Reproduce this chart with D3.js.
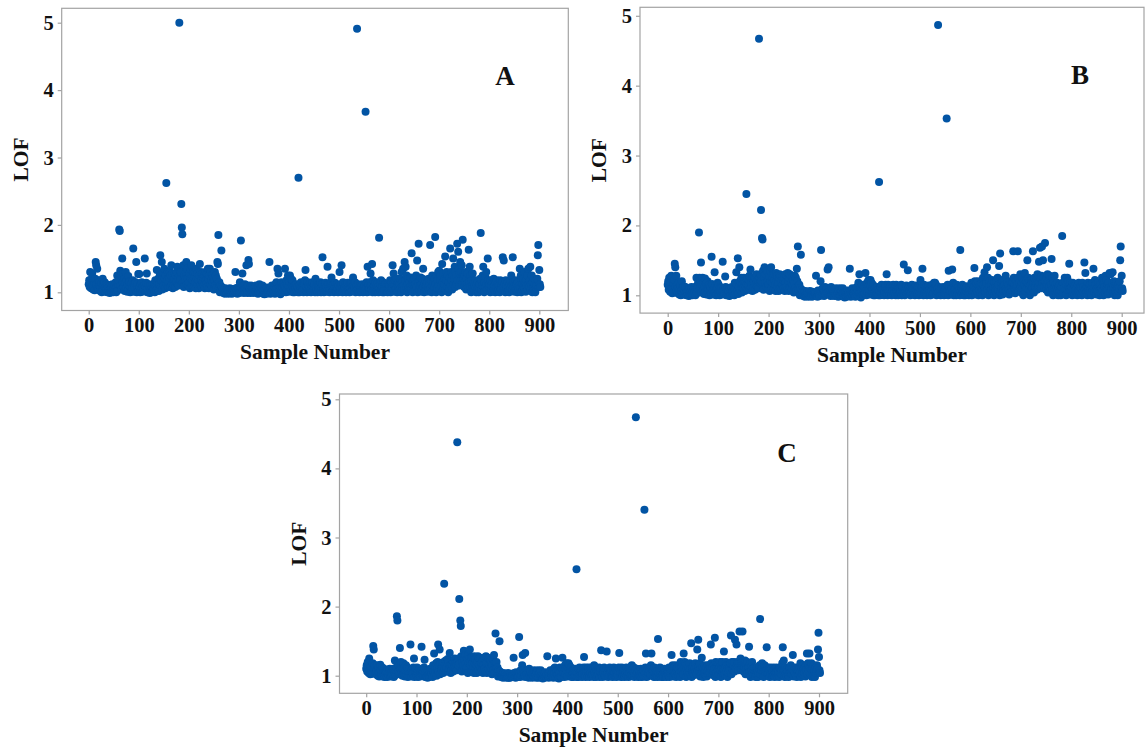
<!DOCTYPE html>
<html>
<head>
<meta charset="utf-8">
<script src="https://cdn.jsdelivr.net/npm/d3@7/dist/d3.min.js"></script>
<style>
html,body{margin:0;padding:0;background:#fff;}
svg{display:block;}
</style>
</head>
<body>
<svg id="chart" width="1145" height="747"></svg>
<script>
// ---- data: LOF value of each sample (index = sample number), in hundredths ----
const lofA = [
112,118,108,130,115,106,120,128,110,104,
109,115,103,120,145,140,112,135,106,118,
104,110,116,102,108,113,100,106,120,111,
103,109,115,101,107,112,104,100,110,106,
102,108,99,111,105,101,107,112,103,100,
106,101,110,104,115,100,108,125,103,112,
118,193,191,132,110,125,104,150,115,128,
108,120,102,114,130,106,118,101,112,124,
104,110,116,100,108,113,102,106,118,165,
101,112,107,104,115,145,100,109,113,127,
103,127,108,100,112,105,115,101,109,106,
104,110,150,102,108,114,128,100,106,112,
101,107,99,111,104,100,108,112,103,106,
105,112,100,118,108,103,133,115,106,120,
102,112,125,155,108,118,145,104,130,115,
110,135,120,106,125,262,112,118,130,108,
115,122,130,108,125,140,112,128,106,118,
110,120,128,108,125,115,130,138,112,122,
110,500,125,118,130,231,196,186,115,140,
108,125,140,118,130,145,112,135,120,110,
115,128,106,135,120,140,110,125,118,130,
108,122,130,115,106,135,120,128,112,118,
106,125,142,110,130,118,108,128,115,122,
110,125,106,130,118,112,128,108,135,120,
106,125,135,112,130,118,108,126,115,122,
104,118,130,110,125,106,120,145,142,185,
106,115,100,110,103,162,108,101,105,99,
101,104,98,106,100,103,99,105,101,98,
103,100,106,99,104,101,98,105,102,100,
99,104,101,130,106,100,103,98,107,101,
104,99,115,101,177,106,100,128,103,110,
99,105,112,101,106,140,103,99,110,148,
142,101,106,99,110,103,100,108,101,105,
99,104,108,101,110,100,106,103,98,107,
101,112,104,99,108,106,100,110,103,98,
102,97,105,100,103,98,107,101,99,104,
100,145,103,98,107,101,110,99,104,102,
101,108,98,112,104,115,100,135,106,128,
99,104,110,97,106,115,101,108,100,112,
103,110,135,106,100,118,104,112,125,108,
101,115,125,106,120,103,110,118,100,108,
104,100,110,106,101,112,103,108,100,270,
106,100,112,104,115,101,108,103,110,100,
105,112,118,133,103,108,100,115,106,110,
101,108,114,103,100,110,106,115,102,108,
104,112,100,120,107,103,115,100,110,106,
102,110,104,115,100,108,112,152,103,106,
100,110,106,114,102,108,101,138,112,104,
106,100,112,104,115,122,108,101,110,103,
100,108,114,103,106,101,112,105,100,110,
103,130,108,101,112,140,106,100,115,104,
101,108,112,103,100,110,106,114,102,108,
104,100,112,106,115,101,108,103,122,110,
102,108,115,100,106,110,491,104,112,101,
106,100,110,103,108,101,112,104,100,107,
103,110,101,368,106,115,100,138,108,112,
101,106,115,128,110,104,142,100,118,108,
103,110,100,115,106,101,112,104,108,100,
181,106,112,101,118,104,108,100,115,103,
100,110,106,113,101,108,104,100,112,106,
103,110,118,100,106,115,108,140,112,128,
101,110,118,106,104,120,100,112,108,115,
103,112,120,106,100,130,115,108,135,110,
104,145,118,138,108,125,100,112,120,106,
102,115,108,122,104,158,112,100,118,110,
106,120,103,112,125,108,147,100,115,172,
104,118,110,122,101,112,106,120,135,108,
100,112,106,118,103,110,115,101,108,120,
104,112,170,106,118,100,125,110,115,103,
108,120,182,112,100,125,106,118,130,110,
132,104,118,125,110,100,142,115,128,106,
112,120,153,104,118,130,108,125,100,115,
106,122,165,110,130,118,104,125,150,112,
120,138,108,130,125,112,172,118,160,135,
110,128,145,118,130,140,112,178,125,120,
108,125,115,130,104,120,112,128,106,163,
115,138,108,125,100,118,110,128,106,115,
102,110,118,106,100,112,104,115,108,100,
106,112,120,188,104,118,110,125,138,108,
100,115,125,108,130,112,104,150,118,110,
106,112,100,118,104,110,115,101,108,120,
103,110,100,115,106,118,108,101,112,104,
110,100,118,106,112,104,115,152,108,147,
104,112,100,118,106,110,101,115,108,103,
100,112,118,106,125,110,104,152,115,108,
101,110,106,118,103,112,100,115,108,104,
110,135,106,125,100,118,112,104,120,108,
130,106,115,101,118,110,125,104,135,112,
108,118,138,104,112,125,100,115,106,120,
103,112,100,118,106,110,120,155,170,108,
133,112,108
];

const lofB = [
115,120,108,125,112,105,118,128,110,103,
108,118,104,122,145,140,112,128,106,115,
103,110,118,101,108,114,100,106,120,110,
104,109,113,101,106,112,103,100,108,105,
102,107,99,110,104,101,106,112,103,100,
105,101,110,104,112,100,108,125,103,110,
116,120,190,125,110,122,147,104,115,125,
106,118,102,112,124,105,116,101,110,120,
103,110,115,100,107,112,102,155,116,106,
101,110,107,133,104,115,100,109,112,118,
103,115,108,100,112,105,110,101,106,148,
104,110,106,102,127,112,100,108,104,110,
101,107,99,110,104,100,108,112,103,106,
105,112,100,118,108,103,133,115,106,153,
102,112,140,120,108,118,125,104,115,110,
110,125,120,106,118,112,245,115,125,108,
115,122,128,108,137,118,112,125,106,118,
110,120,126,108,125,115,130,120,112,122,
110,467,125,118,130,222,120,182,180,135,
108,125,140,118,130,138,112,135,120,110,
115,128,106,135,120,140,110,125,118,130,
108,122,130,115,106,132,120,128,112,118,
106,125,130,110,128,118,108,126,115,122,
110,125,106,130,118,112,128,108,132,120,
106,125,130,112,128,118,108,126,115,122,
104,118,128,110,125,106,138,120,170,112,
106,115,100,110,158,103,108,101,105,99,
101,104,98,106,100,103,99,105,101,98,
103,100,106,99,104,101,98,105,102,100,
99,104,101,103,128,100,103,98,107,101,
104,99,106,120,165,106,100,110,103,108,
99,105,112,101,106,110,103,137,104,140,
101,110,106,99,112,103,100,108,101,105,
99,104,108,101,110,100,106,103,98,107,
101,110,104,99,108,106,100,110,103,98,
102,97,105,100,103,98,107,101,99,104,
100,138,103,98,107,101,110,99,104,102,
101,108,98,110,104,112,100,106,118,104,
130,104,110,97,106,115,101,108,100,112,
103,110,132,106,100,118,104,112,122,108,
101,115,122,106,118,103,110,115,100,108,
104,100,110,106,101,112,103,108,100,262,
106,100,112,104,115,101,108,103,110,100,
105,112,115,103,130,108,100,115,106,110,
101,108,114,103,100,110,106,115,102,108,
104,112,100,115,107,103,112,100,110,106,
102,110,104,115,100,108,112,103,144,106,
100,110,106,114,102,108,136,104,112,104,
106,100,112,104,115,110,108,101,110,103,
100,108,114,103,106,101,112,105,100,110,
103,122,108,101,112,138,106,100,115,104,
101,108,112,103,100,110,106,114,102,108,
104,100,112,106,115,101,108,103,118,110,
118,108,115,100,106,110,487,104,112,101,
106,100,110,103,108,101,112,104,100,107,
103,110,101,353,106,115,100,135,108,112,
101,106,115,110,137,104,118,100,112,108,
103,110,100,115,106,101,112,104,108,100,
165,106,112,101,115,104,108,100,112,103,
100,110,106,113,101,108,104,100,112,106,
103,110,118,100,106,115,108,112,139,120,
101,110,118,106,104,120,100,112,108,115,
103,112,118,106,100,125,115,108,133,110,
104,120,118,140,108,125,100,112,120,106,
102,115,108,122,104,150,112,100,118,110,
106,120,103,112,125,108,115,142,100,160,
104,118,110,122,101,112,106,120,115,108,
128,112,106,118,103,110,115,101,108,120,
104,112,118,106,118,163,125,110,115,103,
108,120,112,115,163,125,106,118,110,130,
112,104,118,125,110,100,120,115,132,106,
112,120,110,150,118,125,108,120,100,115,
106,122,118,110,163,118,104,125,115,112,
120,125,108,130,118,112,148,118,168,125,
110,128,170,118,150,125,112,120,175,120,
108,125,115,130,104,120,112,128,106,118,
115,152,108,125,100,118,110,128,106,115,
102,110,118,106,100,112,104,115,108,100,
106,112,185,118,104,118,110,125,120,108,
100,115,125,108,120,112,145,110,118,110,
106,112,100,118,104,110,115,101,108,116,
103,110,100,115,106,118,108,101,112,104,
110,100,118,106,112,104,147,108,132,110,
104,112,100,118,106,110,101,115,108,103,
100,112,118,106,138,110,104,122,115,108,
101,110,106,118,103,112,100,115,108,104,
110,125,106,120,100,118,112,104,128,108,
122,106,115,101,118,110,132,104,130,112,
108,118,133,104,112,120,100,115,106,118,
103,112,100,115,106,110,120,150,170,108,
128,110,106
];

const lofC = [
110,115,106,120,112,104,125,108,102,112,
106,113,103,118,143,138,110,115,104,112,
102,108,115,100,106,112,99,105,116,108,
101,107,112,99,105,110,102,98,106,104,
100,106,98,109,103,100,105,110,101,99,
104,100,108,102,110,98,106,122,101,108,
112,186,180,118,106,115,102,140,110,120,
104,112,100,110,118,103,112,99,108,115,
102,108,112,98,105,110,100,104,145,106,
99,108,104,102,112,125,98,106,110,104,
101,112,105,98,108,103,110,99,106,104,
142,108,104,100,106,112,123,98,104,108,
99,105,97,108,102,98,106,110,101,104,
103,110,98,115,106,132,101,112,104,118,
100,110,120,145,106,115,138,102,118,110,
108,118,112,104,120,233,110,115,122,106,
112,118,124,106,120,110,133,115,104,115,
108,116,122,106,120,112,125,118,110,118,
108,438,120,115,125,211,118,180,172,128,
106,120,128,115,136,125,110,130,118,108,
112,125,104,130,118,125,138,120,115,126,
106,118,126,112,104,128,118,124,110,115,
104,120,128,108,125,115,106,126,112,118,
108,122,104,126,115,110,125,106,128,118,
104,120,126,110,125,115,106,122,112,118,
102,115,125,108,130,104,118,161,112,120,
104,112,99,108,101,150,106,99,103,98,
99,102,97,104,98,101,98,103,99,97,
101,98,104,97,102,99,97,103,100,98,
98,102,99,126,104,98,101,97,105,99,
102,98,104,99,156,104,98,108,101,106,
115,130,108,99,104,100,133,98,106,102,
99,108,104,97,110,101,98,106,99,103,
97,102,106,99,108,98,104,101,97,105,
99,108,102,97,106,104,98,108,101,97,
100,96,103,98,101,97,105,99,98,102,
128,99,101,97,105,99,108,98,102,100,
99,106,97,110,102,112,98,125,104,108,
97,102,108,96,104,112,99,106,98,110,
126,108,104,112,98,115,102,110,118,106,
99,112,118,104,115,101,108,112,98,106,
102,98,108,104,99,110,101,106,254,98,
104,98,110,102,112,99,106,101,108,98,
103,110,112,127,101,106,98,112,104,108,
99,106,112,101,98,108,104,112,100,106,
102,110,98,115,105,101,112,98,108,104,
100,108,102,112,98,106,110,137,101,104,
98,108,104,112,100,106,99,110,135,102,
104,98,110,102,112,108,106,99,108,101,
98,106,112,101,104,99,110,103,98,108,
101,106,112,133,110,99,104,98,112,102,
99,106,110,101,98,108,104,112,100,106,
102,98,110,104,112,99,106,101,115,108,
100,106,112,98,104,108,474,102,110,99,
104,98,108,101,106,99,110,102,98,105,
101,108,99,340,104,112,132,98,106,110,
99,104,112,108,101,102,115,132,110,106,
101,108,98,112,104,99,110,102,106,98,
153,104,110,99,112,102,106,98,110,101,
98,108,104,110,99,106,102,98,110,104,
101,108,112,98,104,110,106,130,108,115,
99,106,112,104,102,115,98,110,106,112,
101,110,115,104,98,120,112,106,118,108,
102,132,112,120,106,118,98,110,115,104,
100,112,106,118,102,110,147,98,112,106,
104,115,101,110,118,106,112,102,138,108,
152,112,108,118,99,110,104,126,112,106,
98,110,104,115,101,108,112,99,106,115,
102,110,115,104,112,145,118,108,112,101,
106,115,110,155,98,120,104,112,118,108,
118,102,112,120,108,98,115,110,120,104,
110,135,108,102,112,120,106,115,98,110,
104,115,112,108,118,158,102,120,110,108,
115,120,106,152,112,110,145,115,120,118,
108,120,164,112,125,118,110,115,164,112,
106,118,112,122,102,115,110,120,104,112,
112,142,106,118,98,112,108,120,104,110,
100,108,112,104,98,110,102,112,106,98,
104,110,115,182,102,112,108,118,112,106,
98,110,115,106,112,108,141,104,112,108,
104,110,98,112,102,108,110,99,106,112,
101,108,98,110,104,112,106,99,108,102,
108,98,112,104,110,102,108,118,141,106,
122,108,98,112,104,108,99,110,106,101,
98,108,112,104,115,106,102,110,130,106,
99,108,104,112,101,110,98,108,106,102,
108,112,104,118,98,112,110,102,115,106,
110,104,112,99,115,108,132,102,118,110,
106,132,112,102,110,118,98,112,104,115,
101,108,98,112,104,108,115,110,138,162,
127,108,104
];

const panelLabels = ["A", "B", "C"];
const xTicks = [0, 100, 200, 300, 400, 500, 600, 700, 800, 900];
const yTicks = [1, 2, 3, 4, 5];
const xTitle = "Sample Number";
const yTitle = "LOF";

// ---- layout (pixel geometry of each panel) ----
const layouts = [
  {data: lofA, l: 61.7, r: 568.3, t: 8.3, b: 310.5, x0: 88.7, x9: 539.3, y1: 292.3, y5: 22.7, lx: 505, ly: 76},
  {data: lofB, l: 640, r: 1144, t: 7.3, b: 313.1, x0: 667.7, x9: 1121.7, y1: 295.3, y5: 15.8, lx: 1080, ly: 75},
  {data: lofC, l: 339.5, r: 847.7, t: 394, b: 693.3, x0: 366.2, x9: 819, y1: 675.7, y5: 399.3, lx: 787, ly: 453}
];

const FONT = "'Liberation Serif', 'Times New Roman', serif";
const DOT = "#0254a4";
const GRID = "#a3a3a3";

const svg = d3.select("#chart");

layouts.forEach((p, i) => {
  const g = svg.append("g");
  const x = d3.scaleLinear().domain([0, 900]).range([p.x0, p.x9]);
  const y = d3.scaleLinear().domain([1, 5]).range([p.y1, p.y5]);

  g.append("rect")
    .attr("x", p.l).attr("y", p.t)
    .attr("width", p.r - p.l).attr("height", p.b - p.t)
    .attr("fill", "#fff").attr("stroke", GRID).attr("stroke-width", 1.2);

  g.append("g").selectAll("circle")
    .data(p.data)
    .join("circle")
    .attr("cx", (d, k) => x(k))
    .attr("cy", d => y(d / 100))
    .attr("r", 4)
    .attr("fill", DOT);

  const xa = g.append("g")
    .attr("transform", `translate(0,${p.b})`)
    .call(d3.axisBottom(x).tickValues(xTicks).tickSize(4).tickPadding(3).tickFormat(d3.format("d")));
  const ya = g.append("g")
    .attr("transform", `translate(${p.l},0)`)
    .call(d3.axisLeft(y).tickValues(yTicks).tickSize(4).tickPadding(4).tickFormat(d3.format("d")));
  [xa, ya].forEach(a => {
    a.select(".domain").remove();
    a.selectAll(".tick line").attr("stroke", GRID).attr("stroke-width", 1.2);
    a.selectAll(".tick text")
      .attr("fill", "#111")
      .style("font-family", FONT)
      .style("font-weight", "bold")
      .style("font-size", "20.5px");
  });

  g.append("text")
    .attr("x", (p.l + p.r) / 2).attr("y", p.b + 48.5)
    .attr("text-anchor", "middle")
    .style("font-family", FONT).style("font-weight", "bold").style("font-size", "21.5px")
    .attr("fill", "#111")
    .text(xTitle);

  g.append("text")
    .attr("transform", `translate(${p.l - 34},${(p.t + p.b) / 2}) rotate(-90)`)
    .attr("text-anchor", "middle")
    .style("font-family", FONT).style("font-weight", "bold").style("font-size", "21.5px")
    .attr("fill", "#111")
    .text(yTitle);

  g.append("text")
    .attr("x", p.lx).attr("y", p.ly)
    .attr("text-anchor", "middle").attr("dominant-baseline", "central")
    .style("font-family", FONT).style("font-weight", "bold").style("font-size", "27px")
    .attr("fill", "#111")
    .text(panelLabels[i]);
});
</script>
</body>
</html>
